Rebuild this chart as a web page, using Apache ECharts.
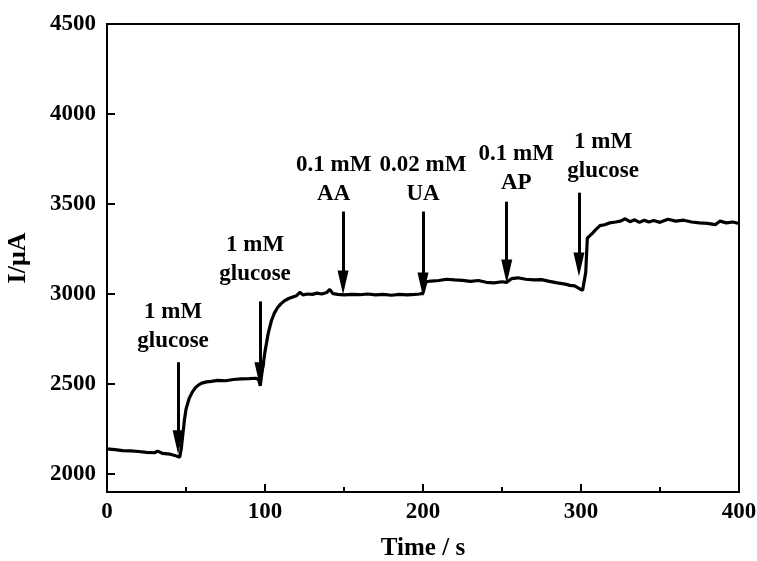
<!DOCTYPE html>
<html>
<head>
<meta charset="utf-8">
<script src="https://cdn.jsdelivr.net/npm/echarts@6/dist/echarts.min.js"></script>
<style>html,body{margin:0;padding:0;background:#fff}#c{width:757px;height:561px}</style>
</head>
<body>
<div id="c"></div>
<script>
// ---- data ----
var timeS = [0,5,10,15,20,25,30,32,35,40,44,46,
  47,48,49,50,52,54,56,58,60,63,66,70,75,80,85,90,94,96,97,
  98,99,100,102,104,106,108,110,112,115,118,120,122,124,127,130,133,136,139,141,143,146,150,155,160,165,170,175,180,185,190,195,198,200,
  201,202,205,210,215,220,225,230,235,240,245,250,253,256,260,265,270,275,280,285,290,293,296,299,301,302,
  303,304,305,307,309,312,315,318,322,325,328,331,334,337,340,343,346,350,355,360,365,370,375,380,385,388,392,396,400];
var currentUA = [2140,2135,2130,2128,2125,2120,2118,2127,2115,2110,2100,2093,
  2140,2220,2300,2360,2420,2455,2480,2495,2505,2512,2515,2520,2518,2525,2528,2530,2532,2525,2490,
  2560,2620,2680,2780,2850,2895,2925,2945,2960,2975,2985,2990,3010,2995,3000,2998,3005,3000,3008,3025,3002,2998,2995,2998,2996,3000,2995,2998,2993,2998,2995,2998,3000,3005,
  3040,3068,3072,3075,3082,3078,3076,3070,3075,3065,3062,3068,3065,3085,3090,3082,3078,3080,3070,3062,3055,3048,3045,3030,3020,3010,
  3120,3310,3300,3335,3355,3380,3385,3395,3400,3405,3418,3402,3412,3398,3410,3400,3408,3398,3415,3405,3410,3400,3395,3392,3385,3405,3395,3400,3392];
var yTicks = [2000,2500,3000,3500,4000,4500];
var xTicks = [0,100,200,300,400];
// annotations: arrow x, arrow top, arrow tip, label x, label y, text
var arrowX   = [45, 96.8, 149.4, 200, 253, 298.7];
var arrowTop = [2621, 2959, 3458, 3458, 3513, 3563];
var arrowTip = [2177, 2554, 3064, 3053, 3125, 3164];
var labelX   = [41.8, 93.7, 143.5, 200, 259, 314];
var labelY   = [2820, 3192, 3635, 3635, 3696, 3763];
var labelTxt = ['1 mM\nglucose','1 mM\nglucose','0.1 mM\nAA','0.02 mM\nUA','0.1 mM\nAP','1 mM\nglucose'];

var font = '"Liberation Serif", "Times New Roman", serif';
var series = timeS.map(function(t,i){return [t, currentUA[i]];});
var arrowLines = arrowX.map(function(x,i){
  return [{coord:[x, arrowTop[i]]},{coord:[x, arrowTip[i]]}];
});
var labels = labelX.map(function(x,i){return {value:[x, labelY[i]], name: labelTxt[i]};});
var plain = function(v){return String(v);};

var chart = echarts.init(document.getElementById('c'), null, {renderer:'canvas'});
chart.setOption({
  animation:false,
  backgroundColor:'#fff',
  grid:{left:107, right:18, top:24, bottom:69, outerBoundsMode:'none', containLabel:false,
    show:true, borderColor:'#000', borderWidth:2, backgroundColor:'transparent'},
  xAxis:{type:'value', min:0, max:400, interval:100,
    axisLine:{lineStyle:{color:'#000', width:2}},
    axisTick:{inside:true, length:8, lineStyle:{color:'#000', width:2}},
    minorTick:{show:true, splitNumber:2, length:5, lineStyle:{color:'#000', width:2}},
    splitLine:{show:false},
    axisLabel:{color:'#000', fontFamily:font, fontWeight:'bold', fontSize:23, margin:9,
      customValues:xTicks, formatter:plain},
    name:'Time / s', nameLocation:'middle', nameGap:44,
    nameTextStyle:{color:'#000', fontFamily:font, fontWeight:'bold', fontSize:25}
  },
  yAxis:{type:'value', min:1900, max:4500,
    axisLine:{lineStyle:{color:'#000', width:2}},
    axisTick:{inside:true, length:8, lineStyle:{color:'#000', width:2}, customValues:yTicks},
    splitLine:{show:false},
    axisLabel:{color:'#000', fontFamily:font, fontWeight:'bold', fontSize:23, margin:11, customValues:yTicks, formatter:plain},
    name:'I/μA', nameLocation:'middle', nameGap:76, nameRotate:90,
    nameTextStyle:{color:'#000', fontFamily:font, fontWeight:'bold', fontSize:26}
  },
  series:[
    {type:'line', data:series, showSymbol:false, symbol:'none',
      lineStyle:{color:'#000', width:3.2}, z:3,
      markLine:{silent:true, symbol:['none','triangle'], symbolSize:[11,24],
        lineStyle:{color:'#000', width:3, type:'solid'},
        itemStyle:{color:'#000'},
        label:{show:false}, data:arrowLines}
    },
    {type:'scatter', data:labels, symbolSize:0, itemStyle:{color:'#000', opacity:1},
      label:{show:true, position:'inside', formatter:function(p){return p.name;},
        color:'#000', opacity:1, textBorderWidth:0, fontFamily:font, fontWeight:'bold', fontSize:23, lineHeight:29, align:'center'}
    }
  ]
});
</script>
</body>
</html>
